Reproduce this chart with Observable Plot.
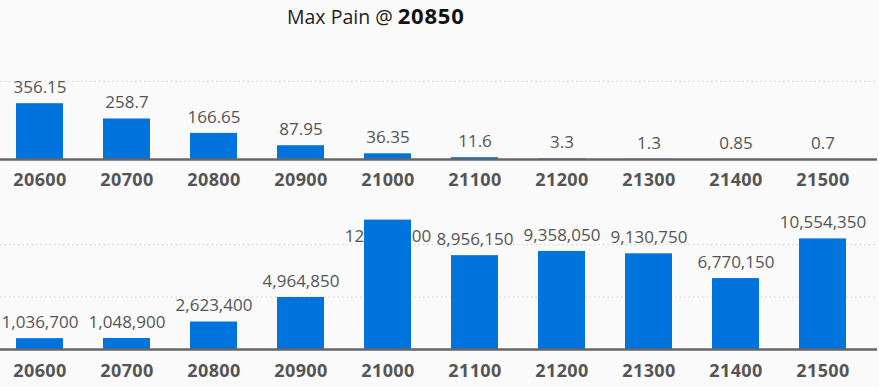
<!DOCTYPE html>
<html>
<head>
<meta charset="utf-8">
<script src="https://cdn.jsdelivr.net/npm/d3@7"></script>
<script src="https://cdn.jsdelivr.net/npm/@observablehq/plot@0.6"></script>
<style>
  html, body { margin: 0; padding: 0; background: #fafafa; }
  body { width: 879px; height: 387px; overflow: hidden; font-family: "Open Sans", sans-serif; }
  #title { position: relative; height: 30px; line-height: 30px; white-space: nowrap; color: #222; }
  #title .lead { position: absolute; left: 287px; top: 0; font-size: 19.5px; }
  #title .val { font-size: 22px; font-weight: bold; letter-spacing: 0.8px; color: #111; }
  svg { display: block; }
</style>
</head>
<body>
<div id="title"></div>
<div id="top"></div>
<div id="bottom"></div>
<script>
const titleText = "Max Pain @";
const maxPain = 20850;
const strikes = [20600, 20700, 20800, 20900, 21000, 21100, 21200, 21300, 21400, 21500];
const topValues = [356.15, 258.7, 166.65, 87.95, 36.35, 11.6, 3.3, 1.3, 0.85, 0.7];
const bottomValues = [1036700, 1048900, 2623400, 4964850, 12346900, 8956150, 9358050, 9130750, 6770150, 10554350];
const topGrid = [500];
const bottomGrid = [5000000, 10000000];

document.getElementById("title").innerHTML =
  `<span class="lead">${titleText} <span class="val">${maxPain}</span></span>`;

const barColor = "#0073dc";
const labelColor = "#555";
const xScale = {
  type: "band",
  domain: strikes.map(String),
  range: [-7.3, 869.7],
  paddingInner: 0.464,
  paddingOuter: 0.232
};

function panel({values, height, marginTop, marginBottom, yMax, grid, fmt, overflowAt, labelCap, tickPadding}) {
  const data = strikes.map((s, i) => ({strike: String(s), value: values[i]}));
  return Plot.plot({
    width: 879,
    height,
    marginTop,
    marginBottom,
    marginLeft: 0,
    marginRight: 2,
    style: {background: "transparent", fontFamily: "Open Sans, sans-serif", overflow: "visible"},
    x: xScale,
    y: {domain: [0, yMax], axis: null},
    marks: [
      Plot.ruleY(grid, {stroke: "#cfcfcf", strokeWidth: 1, strokeDasharray: "1.5,3"}),
      Plot.text(data, {
        x: "strike",
        y: d => (overflowAt && d.value > overflowAt) ? labelCap : d.value,
        text: d => fmt(d.value),
        dy: -16,
        fill: labelColor,
        fontSize: 17
      }),
      Plot.barY(data, {x: "strike", y: "value", fill: barColor}),
      Plot.ruleY([0], {stroke: "#666", strokeWidth: 2.5}),
      Plot.axisX({
        tickSize: 0,
        tickPadding,
        fontSize: 18,
        fontWeight: "bold",
        color: labelColor,
        label: null
      })
    ]
  });
}

const topChart = panel({
  values: topValues, height: 165, marginTop: 35, marginBottom: 36,
  yMax: 600, grid: topGrid, fmt: v => String(v), tickPadding: 14
});
const bottomChart = panel({
  values: bottomValues, height: 192, marginTop: 23, marginBottom: 38,
  yMax: 12500000, grid: bottomGrid, fmt: v => v.toLocaleString("en-US"),
  overflowAt: 11500000, labelCap: 9250000, tickPadding: 15
});
for (const svg of [topChart, bottomChart]) {
  svg.querySelectorAll("g[aria-label='x-axis tick label'] text").forEach(t => t.setAttribute("letter-spacing", "0.4"));
}
document.getElementById("top").appendChild(topChart);
document.getElementById("bottom").appendChild(bottomChart);
</script>
</body>
</html>
